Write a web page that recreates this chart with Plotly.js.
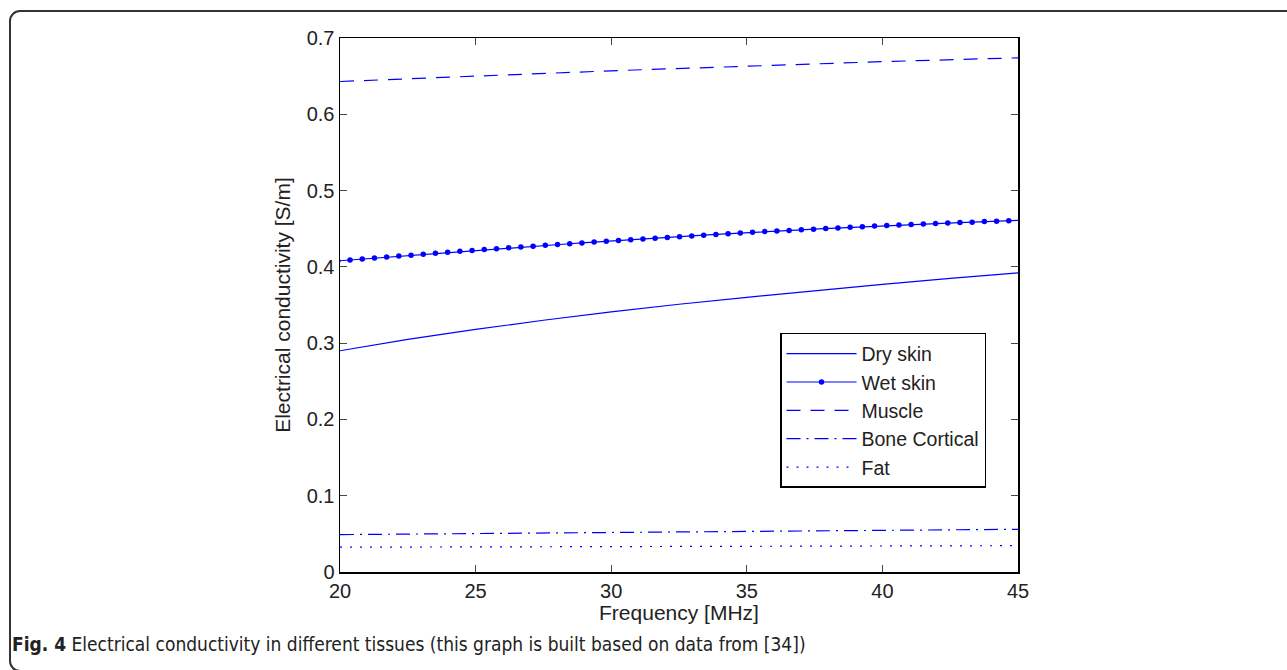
<!DOCTYPE html>
<html>
<head>
<meta charset="utf-8">
<script src="https://cdn.plot.ly/plotly-3.0.1.min.js"></script>
<style>
  html, body { margin: 0; padding: 0; background: #fff; }
  #wrap { position: relative; width: 1287px; height: 670px; overflow: hidden; }
  #frame { position: absolute; left: 9px; top: 10px; width: 1320px; height: 662px;
           border: 2px solid #333;
           border-radius: 11px; box-sizing: border-box; pointer-events: none; }
  #chart { position: absolute; left: 0; top: 0; }
</style>
</head>
<body>
<div id="wrap">
  <div id="chart"></div>
  <div id="frame"></div>
</div>
<script>
// Frequency grid used for the smooth tissues [MHz]
const freqDry = [20, 22.5, 25, 27.5, 30, 32.5, 35, 37.5, 40, 42.5, 45];
const drySkin = [0.290, 0.305, 0.318, 0.330, 0.341, 0.351, 0.360, 0.369, 0.377, 0.385, 0.392];

// Wet skin sample points (dots) [MHz]
const freqWet = [19.92, 20.37, 20.82, 21.27, 21.72, 22.17, 22.62, 23.07, 23.52, 23.97,
                 24.42, 24.87, 25.32, 25.77, 26.22, 26.67, 27.12, 27.57, 28.02, 28.47,
                 28.92, 29.37, 29.82, 30.27, 30.72, 31.17, 31.62, 32.07, 32.52, 32.97,
                 33.41, 33.86, 34.31, 34.76, 35.21, 35.66, 36.11, 36.56, 37.01, 37.46,
                 37.91, 38.36, 38.81, 39.26, 39.71, 40.16, 40.61, 41.06, 41.51, 41.96,
                 42.41, 42.86, 43.31, 43.76, 44.21, 44.66, 45.11];
const wetSkin = [0.4078, 0.4090, 0.4103, 0.4116, 0.4128, 0.4141, 0.4153, 0.4166, 0.4179, 0.4191,
                 0.4204, 0.4216, 0.4228, 0.4238, 0.4249, 0.4260, 0.4271, 0.4282, 0.4292, 0.4303,
                 0.4314, 0.4325, 0.4336, 0.4346, 0.4356, 0.4366, 0.4376, 0.4386, 0.4395, 0.4405,
                 0.4415, 0.4425, 0.4435, 0.4445, 0.4454, 0.4462, 0.4470, 0.4478, 0.4486, 0.4494,
                 0.4502, 0.4510, 0.4518, 0.4527, 0.4535, 0.4542, 0.4549, 0.4555, 0.4561, 0.4567,
                 0.4574, 0.4580, 0.4586, 0.4593, 0.4599, 0.4605, 0.4612];

const freqOther = [20, 25, 30, 35, 40, 45];
const muscle = [0.643, 0.650, 0.657, 0.663, 0.669, 0.674];
const boneCortical = [0.049, 0.0505, 0.052, 0.0535, 0.055, 0.056];
const fat = [0.0325, 0.0329, 0.0333, 0.0337, 0.0341, 0.0345];

const seriesNames = ["Dry skin", "Wet skin", "Muscle", "Bone Cortical", "Fat"];
const xTicks = [20, 25, 30, 35, 40, 45];
const yTicks = [0, 0.1, 0.2, 0.3, 0.4, 0.5, 0.6, 0.7];

const blue = "#0000ff";
const traces = [
  {x: freqDry, y: drySkin, name: seriesNames[0], mode: "lines",
   line: {color: blue, width: 1.2}},
  {x: freqWet, y: wetSkin, name: seriesNames[1], mode: "lines+markers",
   line: {color: blue, width: 1.2}, marker: {color: blue, size: 5.5}},
  {x: freqOther, y: muscle, name: seriesNames[2], mode: "lines",
   line: {color: blue, width: 1.2, dash: "14px,10px"}},
  {x: freqOther, y: boneCortical, name: seriesNames[3], mode: "lines",
   line: {color: blue, width: 1.2, dash: "14px,6px,2px,6px"}},
  {x: freqOther, y: fat, name: seriesNames[4], mode: "lines",
   line: {color: blue, width: 1.2, dash: "2px,8px"}}
];

const fam = "Liberation Sans, Arial, sans-serif";
const tickFont = {family: fam, size: 20, color: "#222"};
const titleFont = {family: fam, size: 21, color: "#222"};

const layout = {
  width: 1287, height: 670,
  margin: {l: 340, r: 269, t: 38, b: 98},
  paper_bgcolor: "#fff", plot_bgcolor: "#fff",
  font: tickFont,
  showlegend: true,
  legend: {x: 0.649, y: 0.4476, xanchor: "left", yanchor: "top",
           bordercolor: "#000", borderwidth: 1.5, bgcolor: "#fff",
           font: {family: fam, size: 19.5, color: "#222"},
           itemwidth: 70, tracegroupgap: 0},
  xaxis: {range: [20, 45], tickvals: xTicks, ticktext: xTicks.map(String),
          showgrid: false, zeroline: false, showline: true, linecolor: "#000", linewidth: 1.5,
          mirror: "ticks", ticks: "inside", ticklen: 7, tickcolor: "#444", tickwidth: 1,
          tickfont: tickFont,
          title: {text: "Frequency [MHz]", font: titleFont, standoff: 3}},
  yaxis: {range: [0, 0.7], tickvals: yTicks, ticktext: yTicks.map(v => String(v)),
          showgrid: false, zeroline: false, showline: true, linecolor: "#000", linewidth: 1.5,
          mirror: "ticks", ticks: "inside", ticklen: 7, tickcolor: "#444", tickwidth: 1,
          tickfont: tickFont,
          title: {text: "Electrical conductivity [S/m]", font: titleFont, standoff: 10}},
  annotations: [{
    xref: "paper", yref: "paper",
    x: (10 - 340) / 678, y: (572 - 644) / 534, xanchor: "left", yanchor: "middle",
    showarrow: false, align: "left",
    text: "<b>Fig. 4</b> Electrical conductivity in different tissues (this graph is built based on data from [34])",
    font: {family: "DejaVu Sans Condensed, DejaVu Sans, sans-serif", size: 19, color: "#222"}
  }]
};

Plotly.newPlot("chart", traces, layout, {displayModeBar: false, staticPlot: true});
</script>
</body>
</html>
